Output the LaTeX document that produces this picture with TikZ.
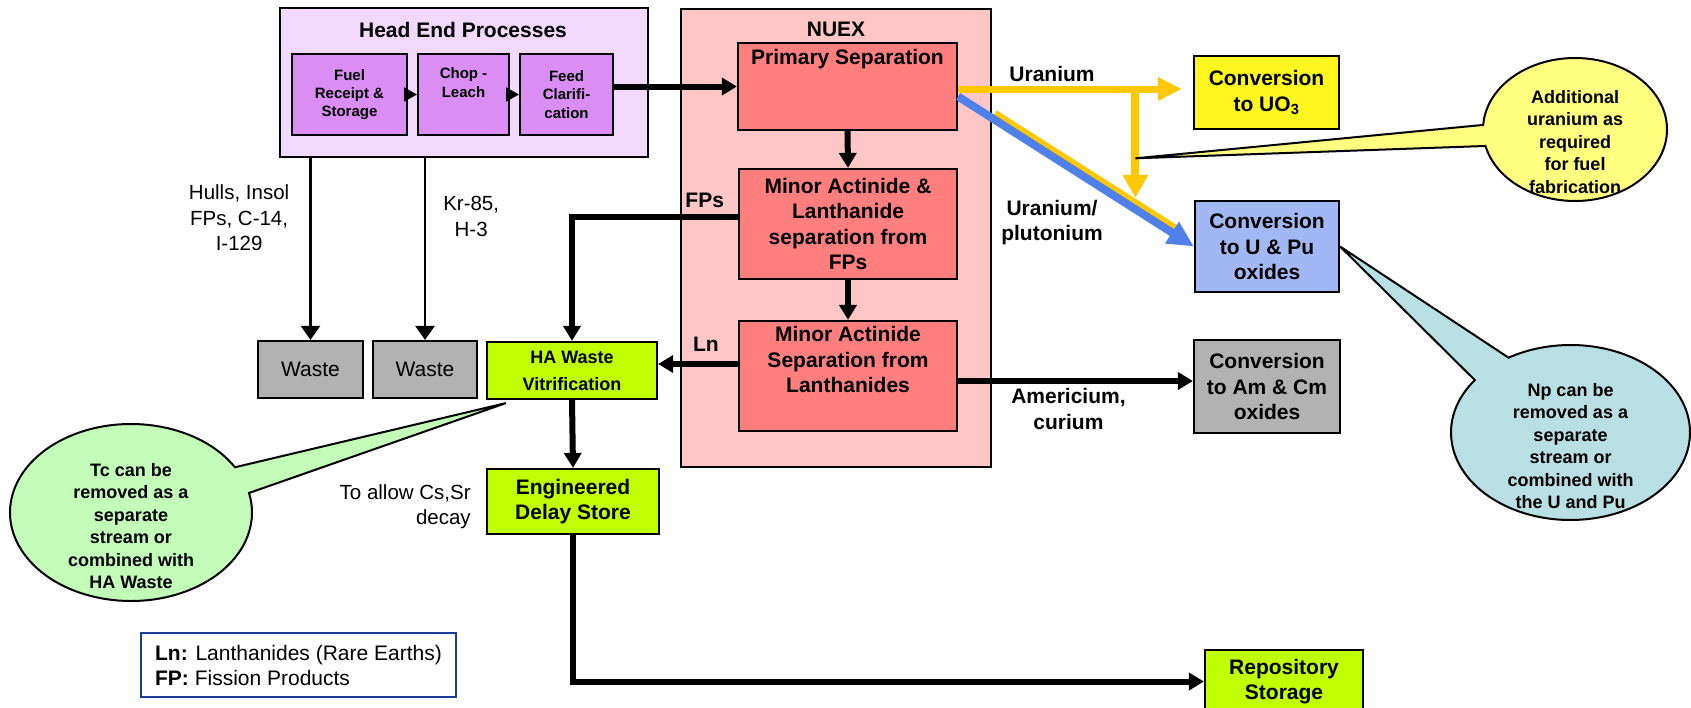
\documentclass[tikz,border=0pt]{standalone}
\usepackage{fontspec}
\setmainfont{Liberation Sans}
\usetikzlibrary{positioning,arrows.meta,shapes.callouts}

\definecolor{headfill}{HTML}{F1D9FD}
\definecolor{chopfill}{HTML}{DA8EF4}
\definecolor{nuexfill}{HTML}{FFC6C6}
\definecolor{sepfill}{HTML}{FF7F7F}
\definecolor{wastegray}{HTML}{B2B2B2}
\definecolor{limefill}{HTML}{C0FF00}
\definecolor{uofill}{HTML}{FFF620}
\definecolor{pufill}{HTML}{A2B8F4}
\definecolor{uyellow}{HTML}{FFC800}
\definecolor{publue}{HTML}{5080EA}
\definecolor{noteyellow}{HTML}{FFFF80}
\definecolor{notegreen}{HTML}{C2FCB8}
\definecolor{noteteal}{HTML}{B8E0E3}
\definecolor{legendblue}{HTML}{1A3C9C}

\begin{document}
\begin{tikzpicture}[
x=1pt, y=-1pt,
font=\fontsize{21}{25.5}\selectfont,
box/.style={
draw,
line width=2.2pt,
inner sep=0pt,
align=center,
font=\fontsize{21}{25.5}\selectfont\bfseries
},
headbox/.style={box, fill=chopfill, line width=2pt, font=\fontsize{15}{18.3}\selectfont\bfseries},
sepbox/.style={box, fill=sepfill},
greenbox/.style={box, fill=limefill},
wastebox/.style={box, fill=wastegray, font=\fontsize{21}{25}\selectfont},
boxtitle/.style={font=\fontsize{21}{25}\selectfont\bfseries, inner sep=0pt},
flowlabel/.style={text=black, font=\fontsize{21}{25.5}\selectfont\bfseries, inner sep=0pt, align=center},
sidelabel/.style={font=\fontsize{20.5}{25.5}\selectfont, inner sep=0pt, align=center},
note/.style={ellipse callout, draw, line width=2pt, inner sep=0pt},
notetext/.style={font=\fontsize{18}{22.5}\selectfont\bfseries, align=center, inner sep=0pt},
flow/.style={line width=6pt, -{Triangle[length=15pt,width=17pt]}},
thinflow/.style={line width=2.5pt, -{Triangle[length=14pt,width=19pt]}},
headflow/.style={line width=2pt, -{Triangle[length=13pt,width=14pt]}},
uflow/.style={uyellow, line width=7pt, -{Triangle[length=24pt,width=22pt]}},
puflow/.style={publue, line width=8pt, -{Triangle[length=26pt,width=24pt]}}
]

\useasboundingbox (0,0) rectangle (1691,707);

\node[box, fill=headfill, minimum width=368pt, minimum height=149pt] (headend) at (464,82.5) {};
\node[boxtitle] (headtitle) at (463,30) {Head End Processes};
\node[headbox, minimum width=115pt, minimum height=81pt] (fuel) at (349.5,94.5) {Fuel\\Receipt \&\\Storage};
\node[headbox, minimum width=91pt, minimum height=81pt] (chop) at (463.5,94.5) {Chop -\\Leach\\\strut};
\node[headbox, minimum width=93pt, minimum height=81pt] (feed) at (566.5,94.5) {Feed\\Clarifi-\\cation};

\node[box, fill=nuexfill, line width=2pt, minimum width=310pt, minimum height=458pt] (nuex) at (836,238) {};
\node[boxtitle] (nuextitle) at (836,29) {NUEX};
\node[sepbox, minimum width=219pt, minimum height=87pt] (prim) at (847.5,86.5) {Primary Separation\\\strut\\\strut};
\node[sepbox, minimum width=218pt, minimum height=110pt] (mal) at (848,224) {Minor Actinide \&\\Lanthanide\\separation from\\FPs};
\node[sepbox, minimum width=218pt, minimum height=110pt] (mas) at (848,376) {Minor Actinide\\Separation from\\Lanthanides\\\strut};

\node[wastebox, minimum width=105pt, minimum height=57pt] (waste1) at (310.5,369.5) {Waste};
\node[wastebox, minimum width=104pt, minimum height=57pt] (waste2) at (425,369.5) {Waste};
\node[greenbox, minimum width=170pt, minimum height=57pt, font=\fontsize{18}{27}\selectfont\bfseries] (hav) at (572,370.5) {HA Waste\\Vitrification};
\node[greenbox, minimum width=172pt, minimum height=65pt] (eds) at (573,501.5) {Engineered\\Delay Store};
\node[greenbox, minimum width=158pt, minimum height=63pt] (repo) at (1284,681.5) {Repository\\Storage};

\node[box, fill=uofill, minimum width=145pt, minimum height=73pt] (uo3) at (1266.5,92.5) {Conversion\\to UO\textsubscript{3}};
\node[box, fill=pufill, minimum width=144pt, minimum height=91pt] (upu) at (1267,246.5) {Conversion\\to U \& Pu\\oxides};
\node[box, fill=wastegray, minimum width=146pt, minimum height=93pt] (amcm) at (1267,386.5) {Conversion\\to Am \& Cm\\oxides};

\draw[headflow] (fuel) -- (chop);
\draw[headflow] (chop) -- (feed);
\draw[flow] (feed.east |- prim.west) -- (prim.west);
\draw[flow] (prim.south) -- (mal.north);
\draw[flow] (mal.south) -- (mas.north);
\draw[flow] ([yshift=7pt]mal.west) -| node[flowlabel, above=6pt, pos=0.1] (fplabel) {FPs} (hav.north);
\draw[flow] ([yshift=12pt]mas.west) -- node[flowlabel, above=10pt, pos=0.4] (lnlabel) {Ln} ([yshift=6.5pt]hav.east);
\draw[flow] (hav.south) -- (eds.north);
\draw[flow] (eds.south) |- (repo.west);
\draw[flow, line width=5.5pt] ([yshift=-5pt]mas.east) -- node[flowlabel, below=5pt, pos=0.47] (amlabel) {Americium,\\curium} ([yshift=5.5pt]amcm.west);

\draw[thinflow] (headend.south -| waste1.north) -- node[sidelabel, left=20pt, pos=0.33] (hullslabel) {Hulls, Insol\\FPs, C-14,\\I-129} (waste1.north);
\draw[thinflow] (headend.south -| waste2.north) -- node[sidelabel, right=17pt, pos=0.32] (krlabel) {Kr-85,\\H-3} (waste2.north);
\node[sidelabel, align=right, left=15pt of eds, yshift=-5pt] (decaylabel) {To allow Cs,Sr\\decay};

\draw[uflow, shorten >=11pt] ([yshift=-2.5pt]prim.east) -- coordinate[pos=0.755] (ubranch) node[flowlabel, above=4pt, pos=0.4] (ulabel) {Uranium} ([yshift=3.5pt]uo3.west);
\draw[uflow, line width=8pt, -{Triangle[length=23pt,width=24pt]}, shorten >=2pt] (ubranch) -- coordinate[pos=0.625] (unote) (ubranch |- upu.north);
\draw[uyellow, line width=6pt, shorten <=40pt, shorten >=24pt] ([xshift=3.2pt,yshift=-4.9pt]prim.east) -- ([xshift=3.2pt,yshift=5.1pt]upu.west);
\draw[puflow] ([yshift=-10pt]prim.east) -- (upu.west);
\node[flowlabel] (pulabel) at (1052,222.5) {Uranium/\\plutonium};

\coordinate (tctip) at ([xshift=20pt,yshift=-3pt]hav.south west);
\node[note, fill=notegreen, minimum width=242pt, minimum height=177pt, callout absolute pointer={(tctip)}, callout pointer arc=18,
label={[notetext, yshift=-13.5pt]center:{Tc can be\\removed as a\\separate\\stream or\\combined with\\HA Waste}}] (tcnote) at (131,512.5) {};
\node[note, fill=noteyellow, minimum width=184pt, minimum height=143pt, callout absolute pointer={(unote)}, callout pointer arc=17,
label={[notetext, yshift=-12.5pt]center:{Additional\\uranium as\\required\\for fuel\\fabrication}}] (addnote) at (1575,129.5) {};
\node[note, fill=noteteal, minimum width=239pt, minimum height=175pt, callout absolute pointer={(upu.east)}, callout pointer arc=22,
label={[notetext, yshift=-13.5pt]center:{Np can be\\removed as a\\separate\\stream or\\combined with\\the U and Pu}}] (npnote) at (1570.5,432.5) {};

\node[draw=legendblue, line width=2pt, inner xsep=14pt, inner ysep=0pt, minimum height=64pt, align=left, font=\fontsize{21}{25}\selectfont] (legend) at (298.5,665) {\textbf{Ln:} Lanthanides (Rare Earths)\\\textbf{FP:} Fission Products};

\end{tikzpicture}
\end{document}
